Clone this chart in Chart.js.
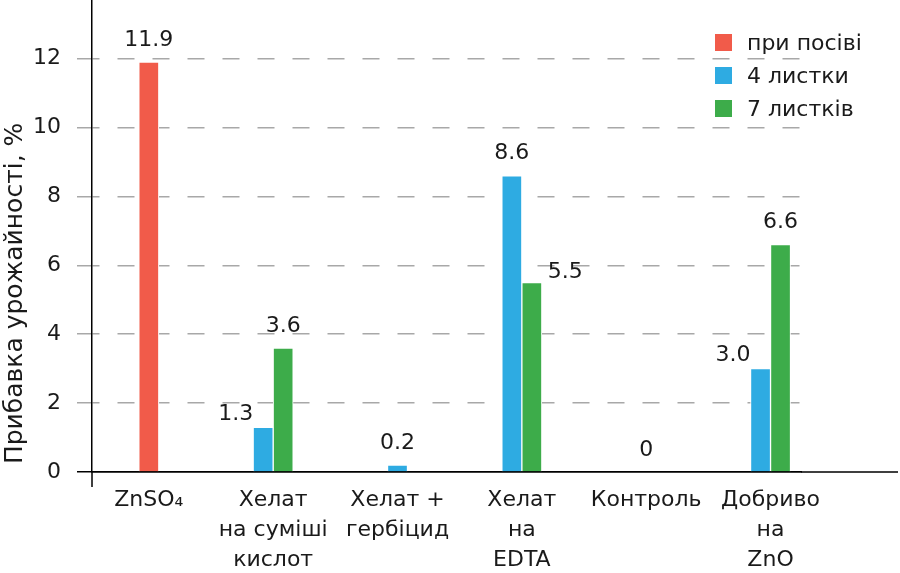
<!DOCTYPE html>
<html>
<head>
<meta charset="utf-8">
<script src="https://cdn.jsdelivr.net/npm/chart.js@4"></script>
<style>
  body { margin: 0; background: #fff; }
  #wrap { position: relative; width: 900px; height: 573px; }
  #legend { position: absolute; left: 715px; top: 26px; font: 22px "DejaVu Sans", sans-serif; color: #1a1a1a; }
  .legend-row { display: flex; align-items: center; height: 33px; }
  .legend-box { width: 17px; height: 17px; margin-right: 15px; }
</style>
</head>
<body>
<div id="wrap">
  <canvas id="chart" width="900" height="573"></canvas>
  <div id="legend"></div>
</div>
<script>
const categories = [
  ['ZnSO\u2084'],
  ['Хелат', 'на суміші', 'кислот'],
  ['Хелат +', 'гербіцид'],
  ['Хелат', 'на', 'EDTA'],
  ['Контроль'],
  ['Добриво', 'на', 'ZnO']
];
const seriesNames = ['при посіві', '4 листки', '7 листків'];
const atSowing = [11.9, null, null, null, null, null];
const fourLeaves = [null, 1.3, 0.2, 8.6, 0, 3.0];
const sevenLeaves = [null, 3.6, null, 5.5, null, 6.6];
const yTicks = [0, 2, 4, 6, 8, 10, 12];

// where each value label sits relative to its bar
const labelSide = [
  ['top', '', '', '', '', ''],
  ['', 'left', 'top', 'top', 'top', 'left'],
  ['', 'top', '', 'right', '', 'top']
];

const colors = ['#f15b4a', '#2eabe2', '#3dac4a'];
const font = '"DejaVu Sans", sans-serif';
const textColor = '#1a1a1a';

const valueLabels = {
  id: 'valueLabels',
  afterDatasetsDraw(chart) {
    const ctx = chart.ctx;
    ctx.save();
    ctx.font = '22px ' + font;
    ctx.fillStyle = textColor;
    chart.data.datasets.forEach((ds, di) => {
      const meta = chart.getDatasetMeta(di);
      meta.data.forEach((bar, i) => {
        const v = ds.data[i].y;
        if (v === null) return;
        const text = v === 0 ? '0' : v.toFixed(1);
        const side = labelSide[di][i];
        const half = bar.width / 2;
        ctx.textBaseline = 'bottom';
        if (side === 'left') {
          ctx.textAlign = 'right';
          ctx.fillText(text, bar.x - half, bar.y - 2);
        } else if (side === 'right') {
          ctx.textAlign = 'left';
          ctx.fillText(text, bar.x + half + 6, bar.y + 1);
        } else {
          ctx.textAlign = 'center';
          ctx.fillText(text, bar.x, bar.y - 11);
        }
      });
    });
    ctx.restore();
  }
};

const axisExtras = {
  id: 'axisExtras',
  afterDraw(chart) {
    const ctx = chart.ctx;
    const area = chart.chartArea;
    const y0 = chart.scales.y.getPixelForValue(0);
    ctx.save();
    ctx.strokeStyle = '#000';
    ctx.lineWidth = 1.5;
    ctx.beginPath();
    ctx.moveTo(area.right, y0);
    ctx.lineTo(chart.width - 2, y0);
    ctx.moveTo(area.left, area.bottom);
    ctx.lineTo(area.left, area.bottom + 15);
    ctx.stroke();
    ctx.restore();
  }
};

const seriesValues = [atSowing, fourLeaves, sevenLeaves];

const chart = new Chart(document.getElementById('chart'), {
  type: 'bar',
  data: {
    datasets: seriesValues.map((vals, si) => ({
      label: seriesNames[si],
      data: vals.map((v, i) => ({ x: i, y: v })),
      backgroundColor: colors[si],
      borderColor: '#ffffff',
      borderWidth: 1,
      barThickness: 20
    }))
  },
  options: {
    responsive: false,
    animation: false,
    skipNull: true,
    layout: { padding: { left: 0, top: 0, right: 99, bottom: 0 } },
    plugins: {
      legend: { display: false },
      tooltip: { enabled: false }
    },
    scales: {
      x: {
        type: 'linear',
        min: -0.457,
        max: 5.245,
        offset: false,
        z: 1,
        grid: { display: false, drawTicks: false, offset: false },
        border: { display: true, color: '#000', width: 1.5 },
        afterBuildTicks(scale) {
          scale.ticks = categories.map((c, i) => ({ value: i }));
        },
        afterFit(scale) {
          scale.height = 101;
          scale.paddingLeft = 0;
          scale.paddingRight = 0;
        },
        ticks: {
          autoSkip: false,
          maxRotation: 0,
          padding: 13,
          color: textColor,
          font: { family: font, size: 22, lineHeight: 1.36 },
          callback: (v) => categories[v] || ''
        }
      },
      y: {
        min: 0,
        max: 13.7,
        afterFit(scale) {
          scale.width = 92;
          scale.paddingTop = 0;
          scale.paddingBottom = 0;
        },
        afterBuildTicks(scale) {
          scale.ticks = yTicks.map(v => ({ value: v }));
        },
        grid: {
          color: (c) => (c.tick && c.tick.value === 0 ? '#000' : '#a8a8a8'),
          lineWidth: 1.5,
          tickLength: 15,
          tickColor: (c) => (c.tick && c.tick.value === 0 ? '#000' : '#a8a8a8'),
          tickBorderDash: (c) => (c.tick && c.tick.value === 0 ? [] : [17, 18])
        },
        border: {
          display: true,
          color: '#000',
          width: 1.5,
          dash: (c) => (c.tick && c.tick.value === 0 ? [] : [17, 18]),
          dashOffset: 10
        },
        ticks: {
          padding: 16,
          color: textColor,
          font: { family: font, size: 22 }
        },
        title: {
          display: true,
          text: ' Прибавка урожайності, %',
          align: 'start',
          color: textColor,
          padding: { top: 0, bottom: 4 },
          font: { family: font, size: 25 }
        }
      }
    }
  },
  plugins: [valueLabels, axisExtras]
});

const legendEl = document.getElementById('legend');
seriesNames.forEach((name, i) => {
  const row = document.createElement('div');
  row.className = 'legend-row';
  row.innerHTML = `<span class="legend-box" style="background:${colors[i]}"></span><span>${name}</span>`;
  legendEl.appendChild(row);
});
</script>
</body>
</html>
